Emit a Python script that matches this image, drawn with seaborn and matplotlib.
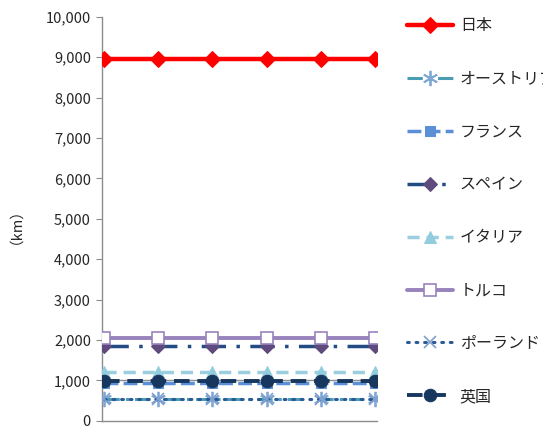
import matplotlib
matplotlib.use("Agg")
import matplotlib.pyplot as plt
import seaborn as sns
import pandas as pd
from matplotlib.ticker import FuncFormatter

# データ（km）
points = [0, 1, 2, 3, 4, 5]
japan = [8950, 8950, 8950, 8950, 8950, 8950]
austria = [540, 540, 540, 540, 540, 540]
france = [930, 930, 930, 930, 930, 930]
spain = [1860, 1860, 1860, 1860, 1860, 1860]
italy = [1200, 1200, 1200, 1200, 1200, 1200]
turkey = [2050, 2050, 2050, 2050, 2050, 2050]
poland = [550, 550, 550, 550, 550, 550]
uk = [980, 980, 980, 980, 980, 980]
ref_line = 1000

sns.set_theme(style="white")
plt.rcParams["font.family"] = ["Noto Sans CJK JP", "DejaVu Sans"]

fig = plt.figure(figsize=(5.43, 4.29), dpi=100)
ax = fig.add_axes([0.188, 0.019, 0.506, 0.942])

ax.axhline(ref_line, color="#8c8c8c", lw=1, zorder=1)

series = [
    ("日本", japan, dict(color="#ff0000", lw=3.2, marker="D", ms=8, mfc="#ff0000", mec="#ff0000", ls="-")),
    ("オーストリア", austria, dict(color="#4a9db3", lw=2.2, marker=(6, 2, 0), ms=11, mec="#7fa7d4", mew=1.3,
                            dashes=(5, 2, 1, 2))),
    ("フランス", france, dict(color="#5b8fd6", lw=2.5, marker="s", ms=7, mfc="#5b8fd6", mec="#5b8fd6", dashes=(4, 1.5))),
    ("スペイン", spain, dict(color="#234b84", lw=2.5, marker="D", ms=7, mfc="#5e4a7c", mec="#5e4a7c",
                         dashes=(7, 3, 1, 3))),
    ("イタリア", italy, dict(color="#9bcfe0", lw=2.5, marker="^", ms=8, mfc="#93cddd", mec="#93cddd", dashes=(3.5, 2))),
    ("トルコ", turkey, dict(color="#9883bd", lw=2.8, marker="s", ms=9, mfc="white", mec="#9883bd", mew=1.2, ls="-")),
    ("ポーランド", poland, dict(color="#2a5a98", lw=2.2, marker="x", ms=9, mec="#7f9fcf", mew=1.2, dashes=(0.6, 2.2),
                           dash_capstyle="round")),
    ("英国", uk, dict(color="#17375e", lw=2.8, marker="o", ms=9, mfc="#17375e", mec="#17375e", dashes=(4, 2))),
]

for name, vals, style in series:
    df = pd.DataFrame({"x": points, "km": vals})
    sns.lineplot(data=df, x="x", y="km", ax=ax, label=name, zorder=3, **style)

ax.set_xlim(-0.04, 5.04)
ax.set_ylim(0, 10000)
ax.set_yticks(range(0, 10001, 1000))
ax.yaxis.set_major_formatter(FuncFormatter(lambda v, p: f"{int(v):,}"))
ax.set_xticks([])
ax.set_xlabel("")
ax.set_ylabel("（km）", fontsize=10.5, labelpad=22)
ax.tick_params(axis="y", labelsize=10.5, length=4, width=0.8, color="#8c8c8c", left=True, pad=4)
for side in ["top", "right"]:
    ax.spines[side].set_visible(False)
for side in ["left", "bottom"]:
    ax.spines[side].set_color("#8c8c8c")
    ax.spines[side].set_linewidth(1)

ax.legend_.remove()
handles, labels = ax.get_legend_handles_labels()
fig.legend(handles, labels, loc="upper left", bbox_to_anchor=(0.735, 0.978), frameon=False,
           fontsize=11.5, handlelength=2.85, labelspacing=2.25, handletextpad=0.45, borderpad=0)

fig.savefig("out.png", dpi=100)
